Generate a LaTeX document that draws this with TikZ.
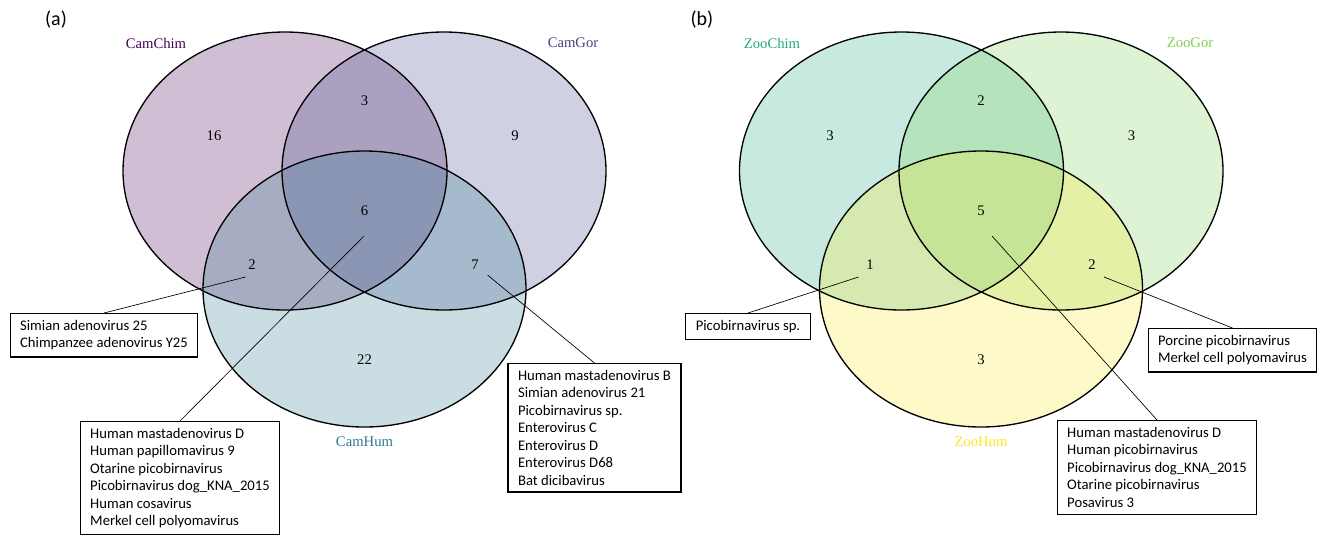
\documentclass[tikz,border=0pt]{standalone}
\usepackage{fontspec}
\setmainfont{Liberation Serif}
\newfontfamily\calfont{Carlito}
\usetikzlibrary{positioning}
\definecolor{virA}{HTML}{440154}
\definecolor{virB}{HTML}{414487}
\definecolor{virC}{HTML}{2A788E}
\definecolor{virD}{HTML}{22A884}
\definecolor{virE}{HTML}{7AD151}
\definecolor{virF}{HTML}{FDE725}

\begin{document}
\begin{tikzpicture}[x=.75pt,y=-.75pt,line width=1pt,
  setname/.style={font=\fontsize{11}{13}\selectfont},
  count/.style={font=\fontsize{11}{13}\selectfont},
  listbox/.style={draw,fill=white,line width=.9pt,align=left,anchor=north,
    inner xsep=7.5pt,inner ysep=5pt,font=\calfont\fontsize{11}{13.1}\selectfont},
  pointer/.style={line width=.5pt},
  panel/.style={font=\calfont\fontsize{15}{18}\selectfont}]
\useasboundingbox (0,0) rectangle (1325,537);
% (a) camera traps
\node[panel] (pa) at (56,20) {(a)};
\fill[virA,fill opacity=.25] (285,171) ellipse [x radius=162,y radius=139];
\fill[virB,fill opacity=.25] (444,171) ellipse [x radius=162,y radius=139];
\fill[virC,fill opacity=.25] (364.5,289) ellipse [x radius=161.5,y radius=138];
\draw (285,171) ellipse [x radius=162,y radius=139];
\draw (444,171) ellipse [x radius=162,y radius=139];
\draw (364.5,289) ellipse [x radius=161.5,y radius=138];
\node[setname,text=virA] (camchim) at (156,43) {CamChim};
\node[setname,text=virB] (camgor) at (573,43) {CamGor};
\node[setname,text=virC] (camhum) at (364.5,442) {CamHum};
\node[count] (a16) at (214,136) {16};
\node[count] (a3) at (364.5,101) {3};
\node[count] (a9) at (515,136) {9};
\node[count] (a6) at (364.5,211) {6};
\node[count] (a2) at (252,265) {2};
\node[count] (a7) at (475,265) {7};
\node[count] (a22) at (364.5,360) {22};
\coordinate (a2tip) at (245.5,277);
\coordinate (a6tip) at (364,236);
\coordinate (a7tip) at (487.5,275);
\node[listbox] (boxa2) at (104,313) {Simian adenovirus 25\\Chimpanzee adenovirus Y25};
\node[listbox] (boxa6) at (180,421) {Human mastadenovirus D\\Human papillomavirus 9\\Otarine picobirnavirus\\Picobirnavirus dog\_KNA\_2015\\Human cosavirus\\Merkel cell polyomavirus};
\node[listbox] (boxa7) at (594.5,363) {Human mastadenovirus B\\Simian adenovirus 21\\Picobirnavirus sp.\\Enterovirus C\\Enterovirus D\\Enterovirus D68\\Bat dicibavirus};
\draw[pointer] (a2tip) -- (boxa2.north);
\draw[pointer] (a6tip) -- (boxa6.north);
\draw[pointer] (a7tip) -- (boxa7.north);
% (b) zoo
\node[panel] (pb) at (702,20) {(b)};
\fill[virD,fill opacity=.25] (901.5,171) ellipse [x radius=162,y radius=139];
\fill[virE,fill opacity=.25] (1061,171) ellipse [x radius=162,y radius=139];
\fill[virF,fill opacity=.25] (981,289) ellipse [x radius=161.5,y radius=138];
\draw (901.5,171) ellipse [x radius=162,y radius=139];
\draw (1061,171) ellipse [x radius=162,y radius=139];
\draw (981,289) ellipse [x radius=161.5,y radius=138];
\node[setname,text=virD] (zoochim) at (772,43) {ZooChim};
\node[setname,text=virE] (zoogor) at (1190,43) {ZooGor};
\node[setname,text=virF] (zoohum) at (981,442) {ZooHum};
\node[count] (b3l) at (830,136) {3};
\node[count] (b2t) at (981,101) {2};
\node[count] (b3r) at (1131.5,136) {3};
\node[count] (b5) at (981,211) {5};
\node[count] (b1) at (870,265) {1};
\node[count] (b2r) at (1092,265) {2};
\node[count] (b3b) at (981,360) {3};
\coordinate (b1tip) at (858.5,277);
\coordinate (b5tip) at (992,236);
\coordinate (b2tip) at (1104,277);
\node[listbox] (boxb1) at (748,313) {Picobirnavirus sp.};
\node[listbox] (boxb5) at (1157,420) {Human mastadenovirus D\\Human picobirnavirus\\Picobirnavirus dog\_KNA\_2015\\Otarine picobirnavirus\\Posavirus 3};
\node[listbox] (boxb2) at (1232.5,328) {Porcine picobirnavirus\\Merkel cell polyomavirus};
\draw[pointer] (b1tip) -- (boxb1.north);
\draw[pointer] (b5tip) -- (boxb5.north);
\draw[pointer] (b2tip) -- (boxb2.north);
\end{tikzpicture}
\end{document}
